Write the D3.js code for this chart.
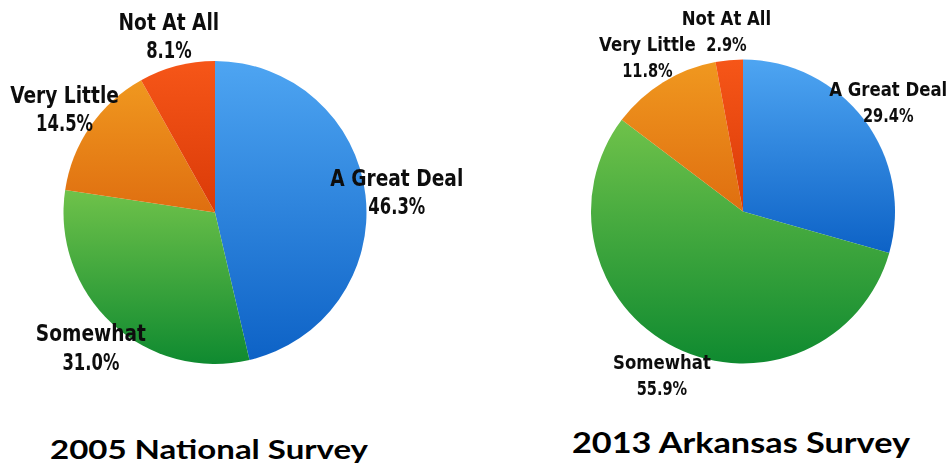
<!DOCTYPE html>
<html>
<head>
<meta charset="utf-8">
<script src="https://cdn.jsdelivr.net/npm/d3@7"></script>
<style>
  html, body { margin: 0; padding: 0; background: #fff; }
  svg { display: block; }
</style>
</head>
<body>
<svg id="chart" width="951" height="473"></svg>
<script>
// Survey answer categories, in clockwise order from 12 o'clock
const categories = ["A Great Deal", "Somewhat", "Very Little", "Not At All"];

// Share of respondents (%) per survey
const national2005 = [46.3, 31.0, 14.5, 8.1];
const arkansas2013 = [29.4, 55.9, 11.8, 2.9];

// Chart titles
const surveyTitles = ["2005 National Survey", "2013 Arkansas Survey"];

// Slice fills: [top colour, bottom colour] of a vertical gradient
const sliceColors = {
  "A Great Deal": ["#4ea5f2", "#0d62c6"],
  "Somewhat":     ["#6fc24a", "#0f8a30"],
  "Very Little":  ["#f0981f", "#df6e10"],
  "Not At All":   ["#f65618", "#da3a08"]
};

// Layout of the two pies
const panels = [
  { values: national2005, title: surveyTitles[0], cx: 215, cy: 212.5, r: 151.5,
    labelR: 183, fontSize: 22.5, lineGap: 28.5, capH: 17,
    titleX: 209, titleY: 459, titleSize: 26, titleW: 318 },
  { values: arkansas2013, title: surveyTitles[1], cx: 743, cy: 211.5, r: 152,
    labelR: 182, fontSize: 20, lineGap: 26, capH: 15,
    titleX: 741, titleY: 453, titleSize: 28, titleW: 338 }
];

// horizontal squeeze giving the condensed label face
const nameSqueeze = 0.92;
const pctSqueeze = 0.81;

const svg = d3.select("#chart");
const defs = svg.append("defs");

categories.forEach((c, i) => {
  const g = defs.append("linearGradient")
    .attr("id", "grad" + i)
    .attr("x1", 0).attr("y1", 0).attr("x2", 0).attr("y2", 1);
  g.append("stop").attr("offset", "0%").attr("stop-color", sliceColors[c][0]);
  g.append("stop").attr("offset", "100%").attr("stop-color", sliceColors[c][1]);
});

// soft halo that the label text carries
const blur = defs.append("filter").attr("id", "soft")
  .attr("x", "-10%").attr("y", "-20%").attr("width", "120%").attr("height", "140%");
blur.append("feGaussianBlur").attr("stdDeviation", 0.45);

const pie = d3.pie().sort(null).value(d => d.value);
const labelFont = "'DejaVu Sans Condensed', 'DejaVu Sans', sans-serif";

panels.forEach(p => {
  const data = categories.map((c, i) => ({ name: c, value: p.values[i], idx: i }));
  const arcs = pie(data);
  const arc = d3.arc().innerRadius(0).outerRadius(p.r);

  const g = svg.append("g").attr("transform", `translate(${p.cx},${p.cy})`);

  g.selectAll("path.slice")
    .data(arcs)
    .join("path")
    .attr("class", "slice")
    .attr("d", arc)
    .attr("fill", d => `url(#grad${d.data.idx})`);

  // Labels sit on a ring outside the pie, along each slice's mid-angle
  const labelArc = d3.arc().innerRadius(p.labelR).outerRadius(p.labelR);
  const labels = g.selectAll("g.label")
    .data(arcs)
    .join("g")
    .attr("class", "label")
    .attr("filter", "url(#soft)")
    .attr("transform", d => {
      const [x, y] = labelArc.centroid(d);
      const base = y - (p.lineGap - p.capH) / 2;
      return `translate(${x},${base})`;
    });

  labels.append("text")
    .attr("text-anchor", "middle")
    .attr("transform", `scale(${nameSqueeze},1)`)
    .attr("font-family", labelFont)
    .attr("font-weight", "bold")
    .attr("font-size", p.fontSize)
    .attr("fill", "#111")
    .text(d => d.data.name);

  labels.append("text")
    .attr("text-anchor", "middle")
    .attr("transform", `translate(0,${p.lineGap}) scale(${pctSqueeze},1)`)
    .attr("font-family", labelFont)
    .attr("font-weight", "bold")
    .attr("font-size", p.fontSize)
    .attr("fill", "#111")
    .text(d => d3.format(".1f")(d.data.value) + "%");

  svg.append("text")
    .attr("x", p.titleX)
    .attr("y", p.titleY)
    .attr("text-anchor", "middle")
    .attr("font-family", "Lato, 'Open Sans', sans-serif")
    .attr("font-weight", "bold")
    .attr("font-size", p.titleSize)
    .attr("textLength", p.titleW)
    .attr("lengthAdjust", "spacingAndGlyphs")
    .attr("fill", "#000")
    .text(p.title);
});
</script>
</body>
</html>
